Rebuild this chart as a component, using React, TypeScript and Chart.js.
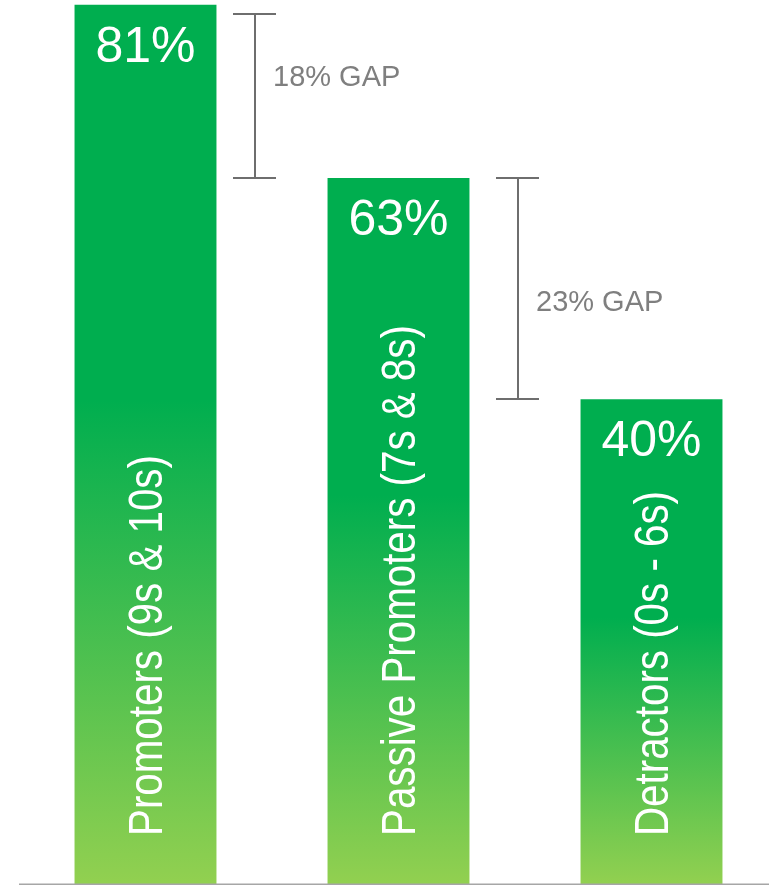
import React, { useEffect, useRef } from "react";
import { Chart, registerables } from "chart.js";

Chart.register(...registerables);

// ---- data ----
const categories = ["Promoters (9s & 10s)", "Passive Promoters (7s & 8s)", "Detractors (0s - 6s)"];
const values = [81, 63, 40];
const valueLabels = ["81%", "63%", "40%"];
const gapLabels = ["18% GAP", "23% GAP"];
const axisMin = -10.4;
const axisMax = 81.5;

// ---- style ----
const DARK = "#00AE4F";
const LIGHT = "#92D050";
const FONT = "'Liberation Sans', Arial, sans-serif";
const gapOffsets = [109, 119.5];
const gapTextFrac = [0.44, 0.6];

const barColor = (c: any) => {
  const chart = c.chart;
  const y = chart.scales && chart.scales.y;
  if (!y || !chart.chartArea) return DARK;
  const top = y.getPixelForValue(values[c.dataIndex]);
  const bottom = y.getPixelForValue(axisMin);
  const g = chart.ctx.createLinearGradient(0, top, 0, bottom);
  g.addColorStop(0, DARK);
  g.addColorStop(0.45, DARK);
  g.addColorStop(1, LIGHT);
  return g;
};

const overlayPlugin = {
  id: "overlay",
  afterDatasetsDraw(chart: any) {
    const { ctx, chartArea, scales } = chart;
    const meta = chart.getDatasetMeta(0);
    ctx.save();

    // baseline
    ctx.strokeStyle = "#a6a6a6";
    ctx.lineWidth = 2;
    ctx.beginPath();
    ctx.moveTo(chartArea.left, chartArea.bottom + 0.5);
    ctx.lineTo(chart.width, chartArea.bottom + 0.5);
    ctx.stroke();

    meta.data.forEach((el: any, i: number) => {
      // value labels
      ctx.fillStyle = "#ffffff";
      ctx.font = `50px ${FONT}`;
      ctx.textAlign = "center";
      ctx.textBaseline = "alphabetic";
      ctx.fillText(valueLabels[i], el.x, el.y + 57);

      // rotated category labels
      ctx.save();
      ctx.translate(el.x - 1 + 17, chartArea.bottom - 48);
      ctx.rotate(-Math.PI / 2);
      ctx.scale(0.84, 1);
      ctx.font = `48px ${FONT}`;
      ctx.textAlign = "left";
      ctx.fillText(categories[i], 0, 0);
      ctx.restore();
    });

    // gap brackets
    for (let i = 0; i < values.length - 1; i++) {
      const el = meta.data[i];
      const x = Math.round(el.x + gapOffsets[i]);
      const top = Math.round(Math.max(scales.y.getPixelForValue(values[i]), chartArea.top + 14));
      const bottom = Math.round(scales.y.getPixelForValue(values[i + 1]));
      ctx.strokeStyle = "#6e6e6e";
      ctx.lineWidth = 2;
      ctx.beginPath();
      ctx.moveTo(x, top);
      ctx.lineTo(x, bottom);
      ctx.moveTo(x - 22, top);
      ctx.lineTo(x + 21, top);
      ctx.moveTo(x - 22, bottom);
      ctx.lineTo(x + 21, bottom);
      ctx.stroke();

      ctx.fillStyle = "#7f7f7f";
      ctx.font = `29px ${FONT}`;
      ctx.textAlign = "left";
      ctx.textBaseline = "alphabetic";
      ctx.fillText(gapLabels[i], x + 18, top + gapTextFrac[i] * (bottom - top));
    }
    ctx.restore();
  },
};

export default function App() {
  const ref = useRef<HTMLCanvasElement | null>(null);
  useEffect(() => {
    if (!ref.current) return;
    const chart = new Chart(ref.current, {
      type: "bar",
      data: {
        labels: categories,
        datasets: [
          {
            data: values,
            base: axisMin,
            backgroundColor: barColor as any,
            borderWidth: 0,
            categoryPercentage: 1,
            barPercentage: 0.561,
          } as any,
        ],
      },
      options: {
        animation: false,
        responsive: false,
        events: [],
        layout: { padding: { left: 19, right: 12, top: 0, bottom: 1 } },
        plugins: { legend: { display: false }, tooltip: { enabled: false } },
        scales: {
          x: { display: false },
          y: { display: false, min: axisMin, max: axisMax },
        },
      },
      plugins: [overlayPlugin],
    });
    return () => chart.destroy();
  }, []);

  return (
    <div style={{ position: "absolute", left: 0, top: 0, width: 769, height: 885, overflow: "hidden", background: "#fff" }}>
      <canvas ref={ref} width={790} height={885} style={{ width: 790, height: 885, display: "block" }} />
    </div>
  );
}
